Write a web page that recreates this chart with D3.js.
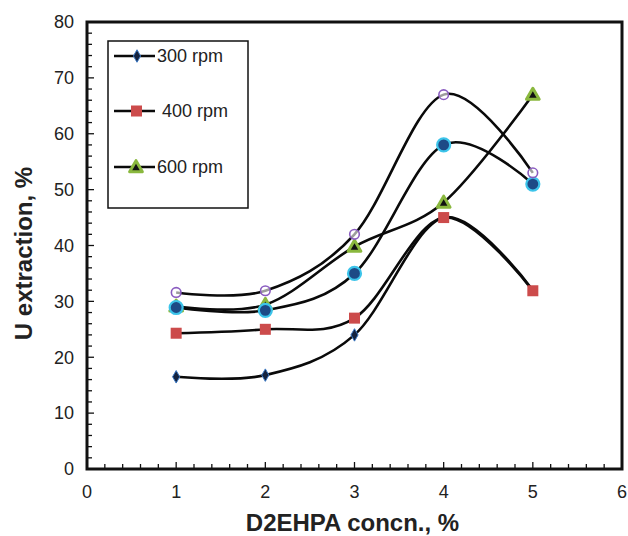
<!DOCTYPE html>
<html>
<head>
    <title>U extraction vs D2EHPA</title>
    <script src="https://d3js.org/d3.v7.min.js"></script>
    <style>
        body { margin: 0; background: #fff; }
        text { font-family: "Liberation Sans", Arial, sans-serif; }
    </style>
</head>
<body>
    <svg id="chart" width="628" height="536"></svg>

    <script>
        // data
        const concn = [1, 2, 3, 4, 5];
        const rpm300 = [16.5, 16.8, 24, 45, 32];
        const rpm400 = [24.3, 25, 27, 45, 31.9];
        const rpm600 = [29.1, 29.4, 39.8, 47.7, 67];
        const seriesCyan = [28.9, 28.4, 35, 58, 51];
        const seriesPurple = [31.6, 31.9, 42, 67, 53];
        const xTicks = [0, 1, 2, 3, 4, 5, 6];
        const yTicks = [0, 10, 20, 30, 40, 50, 60, 70, 80];

        const svg = d3.select("svg#chart");
        const margin = { top: 22, right: 6, bottom: 67, left: 87 };
        const width = +svg.attr("width") - margin.left - margin.right;
        const height = +svg.attr("height") - margin.top - margin.bottom;
        const g = svg.append("g").attr("transform", "translate(" + margin.left + "," + margin.top + ")");

        const x = d3.scaleLinear().domain([0, 6]).range([0, width]);
        const y = d3.scaleLinear().domain([0, 80]).range([height, 0]);

        // minor ticks (inward)
        g.selectAll(".xminor")
            .data(d3.range(0, 6.01, 0.2))
            .join("line")
            .attr("x1", d => x(d)).attr("x2", d => x(d))
            .attr("y1", height).attr("y2", d => height - (Math.abs(d - Math.round(d)) < 1e-6 ? 7 : 5))
            .attr("stroke", "#111").attr("stroke-width", 1.3);
        g.selectAll(".yminor")
            .data(d3.range(0, 80.01, 2))
            .join("line")
            .attr("x1", 0).attr("x2", d => (d % 10 === 0 ? 7 : 5))
            .attr("y1", d => y(d)).attr("y2", d => y(d))
            .attr("stroke", "#111").attr("stroke-width", 1.3);

        // frame
        g.append("rect")
            .attr("x", 0).attr("y", 0)
            .attr("width", width).attr("height", height)
            .attr("fill", "none").attr("stroke", "#111").attr("stroke-width", 3);

        // tick labels
        g.selectAll(".xlab")
            .data(xTicks)
            .join("text")
            .attr("x", d => x(d)).attr("y", height + 29)
            .attr("text-anchor", "middle")
            .style("font-size", "18px").style("fill", "#222")
            .text(d => d);
        g.selectAll(".ylab")
            .data(yTicks)
            .join("text")
            .attr("x", -13).attr("y", d => y(d)).attr("dy", "0.35em")
            .attr("text-anchor", "end")
            .style("font-size", "18px").style("fill", "#222")
            .text(d => d);

        // axis titles
        svg.append("text")
            .attr("x", margin.left + width / 2 - 2).attr("y", 531)
            .attr("text-anchor", "middle")
            .style("font-size", "24px").style("font-weight", "bold").style("fill", "#222")
            .text("D2EHPA concn., %");
        svg.append("text")
            .attr("transform", "translate(32," + (margin.top + height / 2 + 8) + ") rotate(-90)")
            .attr("text-anchor", "middle")
            .style("font-size", "24px").style("font-weight", "bold").style("fill", "#222")
            .text("U extraction, %");

        const line = d3.line()
            .x((d, i) => x(concn[i]))
            .y(d => y(d))
            .curve(d3.curveCardinal.tension(0));

        const allSeries = [rpm300, rpm400, rpm600, seriesCyan, seriesPurple];
        g.selectAll(".curve")
            .data(allSeries)
            .join("path")
            .attr("d", d => line(d))
            .attr("fill", "none").attr("stroke", "#0a0a0a").attr("stroke-width", 2.6);

        // markers
        const pts = s => s.map((v, i) => ({ cx: x(concn[i]), cy: y(v) }));

        const tri = d3.symbol().type(d3.symbolTriangle).size(70);
        g.selectAll(".tri")
            .data(pts(rpm600)).join("path")
            .attr("transform", d => "translate(" + d.cx + "," + (d.cy + 1) + ")")
            .attr("d", tri)
            .attr("fill", "#111").attr("stroke", "#8ab83e").attr("stroke-width", 3).attr("stroke-linejoin", "round");

        g.selectAll(".cyan")
            .data(pts(seriesCyan)).join("circle")
            .attr("cx", d => d.cx).attr("cy", d => d.cy).attr("r", 6.5)
            .attr("fill", "#1d4a86").attr("stroke", "#3cc4ea").attr("stroke-width", 2.2);

        g.selectAll(".sq")
            .data(pts(rpm400)).join("rect")
            .attr("x", d => d.cx - 5.5).attr("y", d => d.cy - 5.5)
            .attr("width", 11).attr("height", 11)
            .attr("fill", "#cc4b4b");

        const dia = d3.symbol().type(d3.symbolDiamond).size(45);
        g.selectAll(".dia")
            .data(pts(rpm300).slice(0, 3)).join("path")
            .attr("transform", d => "translate(" + d.cx + "," + d.cy + ")")
            .attr("d", dia)
            .attr("fill", "#14233f").attr("stroke", "#3a78c4").attr("stroke-width", 1);

        g.selectAll(".purple")
            .data(pts(seriesPurple)).join("circle")
            .attr("cx", d => d.cx).attr("cy", d => d.cy).attr("r", 4.8)
            .attr("fill", "#fff").attr("fill-opacity", 0.6)
            .attr("stroke", "#8a5cc0").attr("stroke-width", 1.6);

        // legend
        const lg = svg.append("g");
        lg.append("rect")
            .attr("x", 108).attr("y", 41).attr("width", 140).attr("height", 167)
            .attr("fill", "#fff").attr("stroke", "#111").attr("stroke-width", 1.5);
        const legendItems = ["300 rpm", " 400 rpm", "600 rpm"];
        const legendY = [56, 111, 167];
        legendItems.forEach((name, i) => {
            const ly = legendY[i];
            lg.append("line")
                .attr("x1", 114).attr("x2", 155).attr("y1", ly).attr("y2", ly)
                .attr("stroke", "#0a0a0a").attr("stroke-width", 2.6);
            if (i === 0) {
                lg.append("path").attr("transform", "translate(137," + ly + ")").attr("d", dia)
                    .attr("fill", "#14233f").attr("stroke", "#3a78c4").attr("stroke-width", 1);
            } else if (i === 1) {
                lg.append("rect").attr("x", 131).attr("y", ly - 5.5).attr("width", 11).attr("height", 11)
                    .attr("fill", "#cc4b4b");
            } else {
                lg.append("path").attr("transform", "translate(136," + (ly + 1) + ")").attr("d", tri)
                    .attr("fill", "#111").attr("stroke", "#8ab83e").attr("stroke-width", 3).attr("stroke-linejoin", "round");
            }
            lg.append("text")
                .attr("x", 157).attr("y", ly).attr("dy", "0.35em")
                .style("font-size", "18px").style("fill", "#222")
                .style("white-space", "pre")
                .text(name);
        });
    </script>
</body>
</html>
